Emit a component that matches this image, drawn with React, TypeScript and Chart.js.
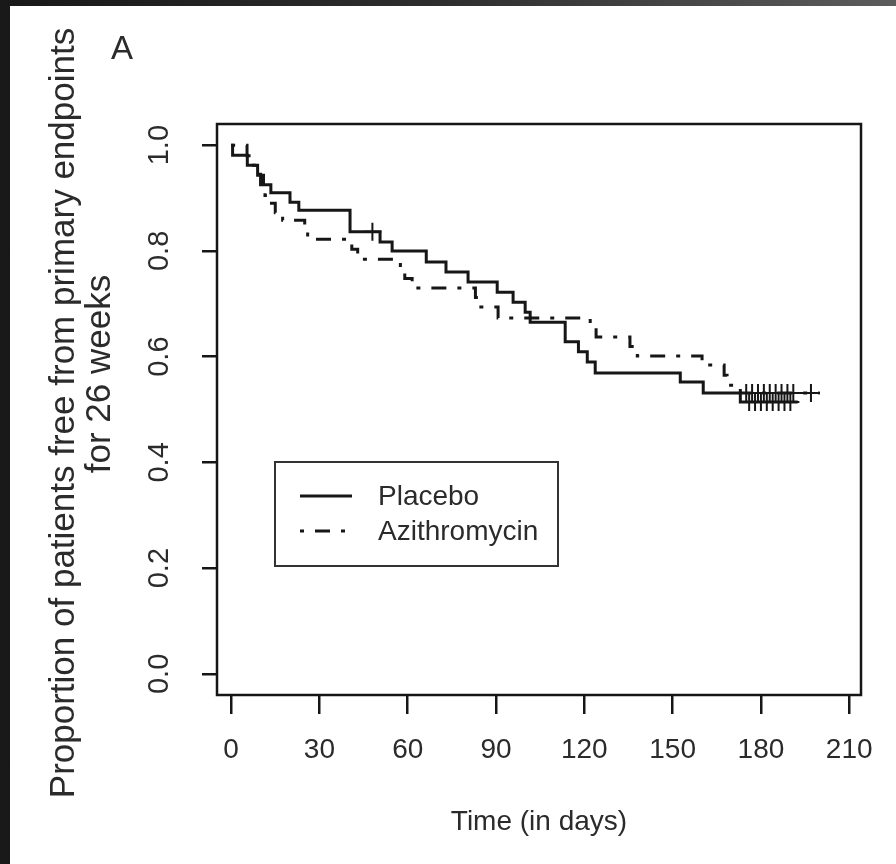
import React, { useEffect, useRef } from "react";
import { Chart, registerables } from "chart.js";

Chart.register(...registerables);

// ---- data ----
const seriesLabels = ["Placebo", "Azithromycin"];

const placeboDays = [0, 0.5, 5.5, 9, 11, 13.5, 20, 23, 40.4, 50.6, 54.7, 66.3, 73, 80.5, 90.4, 95.8, 99.9, 101.6, 113.5, 118, 121, 123.7, 152.6, 160.4, 173, 192.5];
const placeboSurv = [1.0, 0.981, 0.962, 0.943, 0.925, 0.91, 0.892, 0.877, 0.836, 0.817, 0.8, 0.779, 0.76, 0.741, 0.722, 0.703, 0.684, 0.665, 0.628, 0.609, 0.59, 0.569, 0.552, 0.531, 0.514, 0.514];
const placeboCensorDays = [48, 176, 178, 180, 182, 184, 186, 188, 190];

const azithroDays = [0, 5.4, 7, 8.5, 10, 11.5, 13, 15, 17.5, 25, 26, 41, 43, 57.5, 59, 61.5, 83, 84, 90.7, 122, 124, 135.5, 138, 160, 167.5, 168.5, 173, 200];
const azithroSurv = [1.0, 0.98, 0.962, 0.945, 0.925, 0.905, 0.89, 0.872, 0.858, 0.84, 0.822, 0.803, 0.784, 0.766, 0.748, 0.73, 0.712, 0.694, 0.673, 0.655, 0.637, 0.619, 0.601, 0.584, 0.565, 0.546, 0.531, 0.531];
const azithroCensorDays = [175, 177, 179, 181, 183, 185, 187, 189, 191, 197];

const xTickValues = [0, 30, 60, 90, 120, 150, 180, 210];
const yTickValues = [0, 0.2, 0.4, 0.6, 0.8, 1.0];

const panelLabel = "A";
const xTitle = "Time (in days)";
const yTitleLines = ["Proportion of patients free from primary endpoints", "for 26 weeks"];

// ---- styling ----
const FONT = "'Liberation Sans', Arial, Helvetica, sans-serif";
const INK = "#161616";
const TEXT = "#2b2b2b";
const DOTDASH = [4, 11, 15, 11];

function survAt(days: number[], surv: number[], t: number) {
  let v = surv[0];
  for (let i = 0; i < days.length; i++) if (days[i] <= t) v = surv[i];
  return v;
}

const boxPlugin = {
  id: "rBox",
  afterDatasetsDraw(chart: any) {
    const { ctx, chartArea: a } = chart;
    ctx.save();
    ctx.strokeStyle = INK;
    ctx.lineWidth = 2.5;
    ctx.strokeRect(a.left, a.top, a.right - a.left, a.bottom - a.top);
    ctx.restore();
  },
};

const textPlugin = {
  id: "rText",
  afterDraw(chart: any) {
    const { ctx } = chart;
    ctx.save();
    ctx.fillStyle = TEXT;
    // panel letter
    ctx.font = `33px ${FONT}`;
    ctx.textAlign = "center";
    ctx.textBaseline = "middle";
    ctx.fillText(panelLabel, 122, 50);
    // y title lines (rotated)
    const ys = [413, 374];
    const xs = [64, 100];
    ctx.font = `35px ${FONT}`;
    yTitleLines.forEach((line, i) => {
      ctx.save();
      ctx.translate(xs[i], ys[i]);
      ctx.rotate(-Math.PI / 2);
      ctx.fillText(line, 0, 0);
      ctx.restore();
    });
    ctx.restore();
  },
};

const legendPlugin = {
  id: "rLegend",
  afterDraw(chart: any) {
    const { ctx } = chart;
    const items = chart.data.datasets.filter((d: any) => d.inLegend);
    const left = 275, top = 462, w = 283, h = 104;
    ctx.save();
    ctx.fillStyle = "#ffffff";
    ctx.fillRect(left, top, w, h);
    ctx.strokeStyle = "#333";
    ctx.lineWidth = 2;
    ctx.strokeRect(left, top, w, h);
    ctx.font = `28px ${FONT}`;
    ctx.textBaseline = "middle";
    ctx.textAlign = "left";
    items.forEach((d: any, i: number) => {
      const y = 496 + i * 35;
      ctx.strokeStyle = d.borderColor;
      ctx.lineWidth = d.borderWidth;
      ctx.setLineDash(d.borderDash || []);
      ctx.beginPath();
      ctx.moveTo(300, y);
      ctx.lineTo(352, y);
      ctx.stroke();
      ctx.setLineDash([]);
      ctx.fillStyle = TEXT;
      ctx.fillText(d.label, 378, y + 1);
    });
    ctx.restore();
  },
};

export default function App() {
  const ref = useRef<HTMLCanvasElement | null>(null);

  useEffect(() => {
    if (!ref.current) return;
    const pl = placeboDays.map((d, i) => ({ x: d, y: placeboSurv[i] }));
    const az = azithroDays.map((d, i) => ({ x: d, y: azithroSurv[i] }));
    const plC = placeboCensorDays.map((d) => ({ x: d, y: survAt(placeboDays, placeboSurv, d) }));
    const azC = azithroCensorDays.map((d) => ({ x: d, y: survAt(azithroDays, azithroSurv, d) }));

    const chart = new Chart(ref.current, {
      type: "line",
      data: {
        datasets: [
          {
            label: seriesLabels[0],
            data: pl,
            stepped: "before",
            borderColor: INK,
            borderWidth: 3,
            pointRadius: 0,
            fill: false,
            inLegend: true,
          } as any,
          {
            label: seriesLabels[1],
            data: az,
            stepped: "before",
            borderColor: INK,
            borderWidth: 3,
            borderDash: DOTDASH,
            pointRadius: 0,
            fill: false,
            inLegend: true,
          } as any,
          {
            label: seriesLabels[0] + " censored",
            data: plC,
            showLine: false,
            pointStyle: "cross",
            pointRadius: 9,
            pointBorderWidth: 2,
            pointBorderColor: INK,
          } as any,
          {
            label: seriesLabels[1] + " censored",
            data: azC,
            showLine: false,
            pointStyle: "cross",
            pointRadius: 9,
            pointBorderWidth: 2,
            pointBorderColor: INK,
          } as any,
        ],
      },
      options: {
        animation: false,
        responsive: false,
        devicePixelRatio: 1,
        layout: { padding: { top: 124, right: 35, bottom: 0, left: 0 } },
        plugins: {
          legend: { display: false },
          tooltip: { enabled: false },
          title: { display: false },
        },
        scales: {
          x: {
            type: "linear",
            min: -4.8,
            max: 214,
            afterBuildTicks: (s: any) => {
              s.ticks = xTickValues.map((v) => ({ value: v }));
            },
            afterFit: (s: any) => {
              s.height = 169;
            },
            grid: { drawOnChartArea: false, drawTicks: true, tickLength: 19, color: INK, lineWidth: 2.5 },
            border: { display: false },
            ticks: {
              font: { family: FONT, size: 28 },
              color: TEXT,
              padding: 19,
              minRotation: 0,
              maxRotation: 0,
              autoSkip: false,
              callback: (v: any) => String(v),
            },
            title: {
              display: true,
              text: xTitle,
              font: { family: FONT, size: 28 },
              color: TEXT,
              padding: { top: 0, bottom: 25 },
            },
          },
          y: {
            type: "linear",
            min: -0.04,
            max: 1.04,
            afterBuildTicks: (s: any) => {
              s.ticks = yTickValues.map((v) => ({ value: v }));
            },
            afterFit: (s: any) => {
              s.width = 217;
            },
            grid: { drawOnChartArea: false, drawTicks: true, tickLength: 15, color: INK, lineWidth: 2.5 },
            border: { display: false },
            ticks: {
              font: { family: FONT, size: 29 },
              color: TEXT,
              padding: 22,
              minRotation: 90,
              maxRotation: 90,
              crossAlign: "center",
              autoSkip: false,
              callback: (v: any) => Number(v).toFixed(1),
            },
          },
        },
      } as any,
      plugins: [boxPlugin, textPlugin, legendPlugin],
    });
    return () => chart.destroy();
  }, []);

  return (
    <div
      style={{
        position: "absolute",
        left: 0,
        top: 0,
        width: 896,
        height: 864,
        background: "linear-gradient(90deg, #181818 0%, #2e2e2e 50%, #5c5c5c 100%)",
        overflow: "hidden",
      }}
    >
      <div style={{ position: "absolute", left: 10, top: 6, right: 0, bottom: 0, background: "#ffffff" }} />
      <canvas ref={ref} width={896} height={864} style={{ position: "absolute", left: 0, top: 0, width: 896, height: 864 }} />
    </div>
  );
}
